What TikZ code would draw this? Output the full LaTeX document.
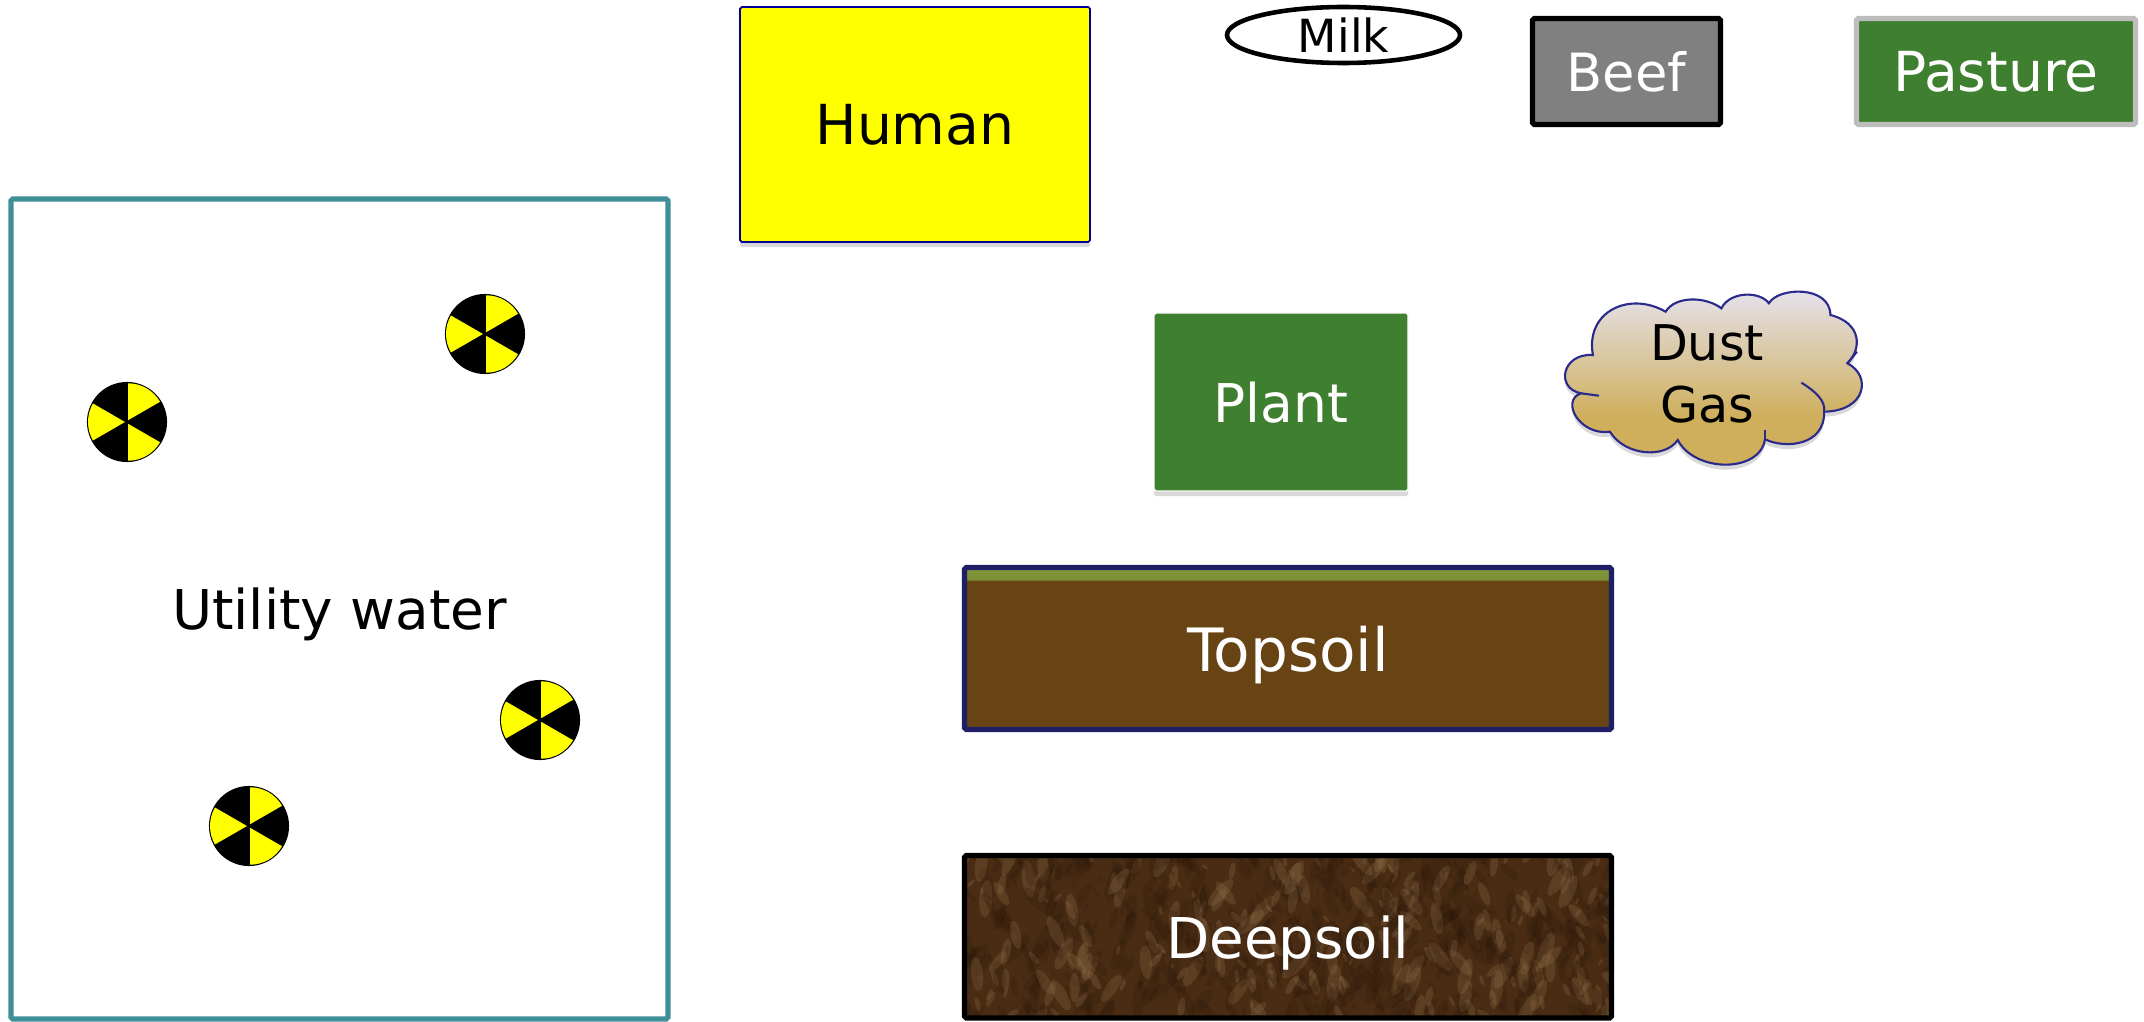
\documentclass[tikz,border=0pt]{standalone}
\usepackage{fontspec}
\setmainfont{DejaVu Sans}
\usetikzlibrary{shapes, positioning, shadows}

\definecolor{hazyellow}{RGB}{255,255,0}
\definecolor{waterteal}{HTML}{3F8F98}
\definecolor{plantgreen}{HTML}{3F7F30}
\definecolor{soilbrown}{HTML}{684313}
\definecolor{soilgreen}{HTML}{7F963A}
\definecolor{soilnavy}{HTML}{1F1F66}
\definecolor{deepbrown}{HTML}{4A2C14}
\definecolor{deeptan}{HTML}{A08058}
\definecolor{deepdark}{HTML}{2A1608}
\definecolor{cloudtan}{HTML}{CFAF5C}
\definecolor{cloudtop}{HTML}{E6E4F2}
\definecolor{cloudline}{HTML}{2A2A8C}
\definecolor{beefgrey}{HTML}{808080}
\definecolor{pastureline}{HTML}{BDBDBD}
\pgfdeclareverticalshading{cloudfade}{100bp}{color(0bp)=(cloudtan); color(40bp)=(cloudtan); color(75bp)=(cloudtop); color(100bp)=(cloudtop)}
\pgfmathsetseed{4217}
\newcommand{\sized}[1]{\fontsize{#1}{#1}\selectfont}

\begin{document}
\begin{tikzpicture}[node distance=1cm, outer sep=0pt, inner sep=0pt]
    \tikzstyle{box} = [draw, rectangle, rounded corners=0.5pt, text depth=0pt]
    \tikzstyle{lightbox} = [box, text=white]
    \tikzstyle{lifted} = [drop shadow={shadow xshift=0pt, shadow yshift=-0.05cm, opacity=0.3}]
    \tikzstyle{hazard} = [draw, circle, fill=black, line width=0.6pt, minimum size=0.78cm]

    \useasboundingbox (0,0) rectangle (21.44,10.21);

    \node[box, draw=waterteal, line width=1.5pt, minimum width=6.57cm, minimum height=8.2cm] (water) at (3.395,4.12) {};
    \node[text depth=0pt, font=\sized{15.6}] (waterlabel) at (water.center) {Utility water};

    \node[box, draw=blue!60!black, fill=hazyellow, line width=0.5pt, lifted, minimum width=3.5cm, minimum height=2.35cm, right=0.72cm of water.north east, yshift=1.92cm, anchor=north west, font=\sized{15.7}] (human) {Human};
    \node[draw, ellipse, line width=1.3pt, minimum width=2.33cm, minimum height=0.56cm, font=\sized{13}, right=1.37cm of human.north east, yshift=-0.28cm] (milk) {Milk};
    \node[lightbox, fill=beefgrey, line width=1.5pt, minimum width=1.88cm, minimum height=1.06cm, right=0.725cm of milk.east, yshift=-0.365cm, font=\sized{15}] (beef) {Beef};
    \node[lightbox, draw=pastureline, fill=plantgreen, line width=1.5pt, minimum width=2.79cm, minimum height=1.06cm, right=1.36cm of beef, font=\sized{15.7}] (pasture) {Pasture};

    \node[lightbox, draw=white, fill=plantgreen, line width=0.4pt, lifted, minimum width=2.54cm, minimum height=1.78cm, font=\sized{15.2}] (plant) at (12.81,6.19) {Plant};

    % cloud outline
    \path[draw=cloudline, shading=cloudfade, line width=0.6pt, lifted] (16.656,7.093)
        .. controls (16.75,7.25) and (17.05,7.25) .. (17.214,7.127)
        .. controls (17.3,7.3) and (17.6,7.3) .. (17.689,7.177)
        .. controls (17.78,7.34) and (18.3,7.36) .. (18.304,7.06)
        .. controls (18.62,6.98) and (18.62,6.72) .. (18.474,6.577)
        .. controls (18.72,6.45) and (18.66,6.1) .. (18.241,6.093)
        .. controls (18.25,5.75) and (17.85,5.72) .. (17.65,5.817)
        .. controls (17.6,5.48) and (16.95,5.48) .. (16.777,5.81)
        .. controls (16.65,5.62) and (16.25,5.65) .. (16.099,5.893)
        .. controls (15.8,5.85) and (15.6,6.2) .. (15.808,6.277)
        .. controls (15.55,6.33) and (15.62,6.68) .. (15.929,6.66)
        .. controls (15.85,7.1) and (16.3,7.3) .. (16.656,7.093) -- cycle;
    \draw[cloudline, line width=0.6pt] (18.014,6.383) .. controls (18.15,6.3) and (18.26,6.2) .. (18.241,6.093);
    \draw[cloudline, line width=0.6pt] (18.474,6.577) -- (18.57,6.693);
    \draw[cloudline, line width=0.6pt] (15.808,6.277) -- (15.99,6.253);
    \draw[cloudline, line width=0.6pt] (17.65,5.817) -- (17.65,5.91);
    \node[align=center, font=\fontsize{14}{17.6}\selectfont] (dust) at (17.07,6.47) {Dust\\Gas};

    \node[lightbox, draw=soilnavy, fill=soilbrown, line width=1.5pt, minimum width=6.47cm, minimum height=1.62cm, path picture={
        \shade[top color=soilgreen, bottom color=soilbrown] ([yshift=-0.02cm]path picture bounding box.north west) rectangle ([yshift=-0.13cm]path picture bounding box.north east);
    }, below=0.765cm of plant, xshift=0.07cm, font=\sized{17}] (topsoil) {Topsoil};
    \node[lightbox, draw=black, fill=deepbrown, line width=1.5pt, minimum width=6.47cm, minimum height=1.625cm, path picture={
        \foreach \i in {1,...,760} {
            \pgfmathsetmacro{\px}{rnd*6.6}
            \pgfmathsetmacro{\py}{rnd*1.7}
            \pgfmathsetmacro{\pa}{40+rnd*100}
            \pgfmathsetmacro{\pr}{0.03+rnd*0.16}
            \pgfmathtruncatemacro{\pk}{mod(\i,3)}
            \ifnum\pk=0 \def\pc{deeptan}\else\def\pc{deepdark}\fi
            \fill[\pc, opacity=0.22] ([shift={(\px,\py)}]path picture bounding box.south west) ellipse [x radius=\pr, y radius=\pr*0.35, rotate=\pa];
        }
    }, below=1.26cm of topsoil, font=\sized{16}] (deepsoil) {Deepsoil};

    \foreach \name/\hx/\hy in {haz1/-2.125/1.87, haz2/1.455/2.75, haz3/2.005/-1.11, haz4/-0.905/-2.17} {
        \node[hazard, xshift=\hx cm, yshift=\hy cm] (\name) at (water.center) {};
        \foreach \ang in {60,180,300} {
            \fill[hazyellow] ([shift={(\ang:0.02)}]\name.center) -- ++(\ang-30:0.37) arc[start angle=\ang-30, end angle=\ang+30, radius=0.37] -- cycle;
        }
    }
\end{tikzpicture}
\end{document}
